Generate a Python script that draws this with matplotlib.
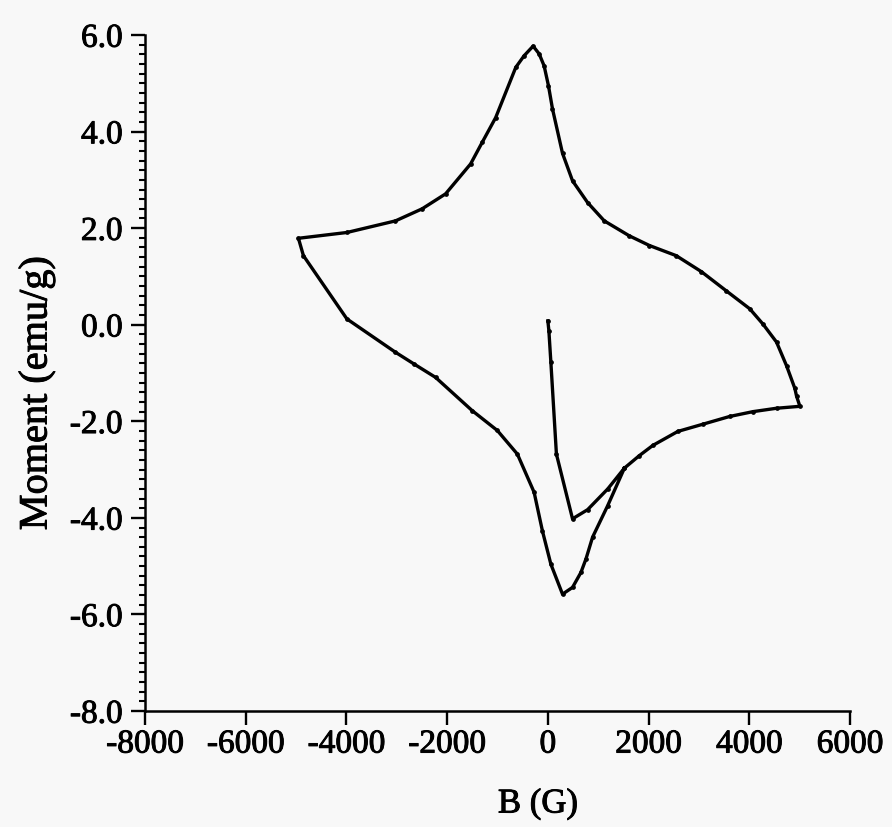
import matplotlib
matplotlib.use("Agg")
import matplotlib.pyplot as plt
import matplotlib.patheffects as pe
from matplotlib.ticker import MultipleLocator, FormatStrFormatter

plt.rcParams["font.family"] = ["Liberation Serif", "DejaVu Serif"]
plt.rcParams["axes.unicode_minus"] = False

# field (G) and moment (emu/g), read off the scanned hysteresis loop
# virgin curve from the origin up to +5000 G
b_virgin = [0, 20, 60, 170, 490, 790, 1190, 1520, 1818, 2084, 2581, 3080, 3611, 4075, 4541, 5005]
m_virgin = [0.08, -0.12, -0.78, -2.68, -4.02, -3.83, -3.40, -2.97, -2.71, -2.50, -2.21, -2.06,
            -1.90, -1.80, -1.73, -1.69]

# descending branch, +5000 G -> -5000 G
b_down = [4939, 4905, 4740, 4541, 4274, 4009, 3545, 3047, 2549, 2018, 1619, 1121, 789, 490,
          291, 92, 12, -74, -173, -293, -472, -637, -1036, -1302, -1534, -2031, -2497,
          -3027, -3991, -4953]
m_down = [-1.48, -1.32, -0.85, -0.36, 0.01, 0.33, 0.70, 1.10, 1.43, 1.64, 1.84, 2.15, 2.53, 2.98,
          3.55, 4.47, 4.95, 5.36, 5.61, 5.77, 5.57, 5.33, 4.29, 3.78, 3.33, 2.71, 2.40,
          2.15, 1.91, 1.79]

# ascending branch, -5000 G back to the virgin curve
b_up = [-4854, -3991, -3027, -2663, -2231, -1502, -1004, -605, -273, -108, 60, 291,
        490, 657, 757, 888, 1187, 1520]
m_up = [1.43, 0.12, -0.57, -0.81, -1.09, -1.78, -2.19, -2.68, -3.47, -4.27, -4.96, -5.58,
        -5.44, -5.13, -4.85, -4.40, -3.75, -2.97]

x_ticks = [-8000, -6000, -4000, -2000, 0, 2000, 4000, 6000]
y_ticks = [-8.0, -6.0, -4.0, -2.0, 0.0, 2.0, 4.0, 6.0]

bg = "#f8f8f8"
fig = plt.figure(figsize=(8.92, 8.28), dpi=100, facecolor=bg)
ax = fig.add_axes([145 / 892, 1 - 712 / 828, (850 - 145) / 892, (712 - 36) / 828])
ax.set_facecolor(bg)

b_all = b_virgin + b_down + b_up
m_all = m_virgin + m_down + m_up
ax.plot(b_all, m_all, color="black", lw=2.4, marker="o", ms=2.4, solid_joinstyle="round")

ax.set_xlim(-8000, 6000)
ax.set_ylim(-8.0, 6.0)
ax.set_xticks(x_ticks)
ax.set_yticks(y_ticks)
ax.yaxis.set_major_formatter(FormatStrFormatter("%.1f"))
ax.yaxis.set_minor_locator(MultipleLocator(0.2))

for s in ["top", "right"]:
    ax.spines[s].set_visible(False)
for s in ["left", "bottom"]:
    ax.spines[s].set_linewidth(1.8)

ax.tick_params(which="major", length=10, width=1.7, labelsize=24)
ax.tick_params(axis="x", which="major", pad=3)
ax.tick_params(axis="y", which="major", pad=6)
ax.tick_params(axis="y", which="minor", length=4, width=1.5)

# thicken glyphs a little, like the scanned print
heavy = [pe.withStroke(linewidth=0.7, foreground="black")]
for lab in ax.get_xticklabels() + ax.get_yticklabels():
    lab.set_path_effects(heavy)

ax.set_xlabel("B (G)", fontsize=25, va="center", path_effects=heavy)
ax.xaxis.set_label_coords((538 - 145) / 705, -(805 - 712) / 676)
ax.set_ylabel("Moment (emu/g)", fontsize=29, va="center", path_effects=heavy)
ax.yaxis.set_label_coords(-(145 - 37) / 705, 0.47)

fig.savefig("out.png", dpi=100, facecolor=bg)
